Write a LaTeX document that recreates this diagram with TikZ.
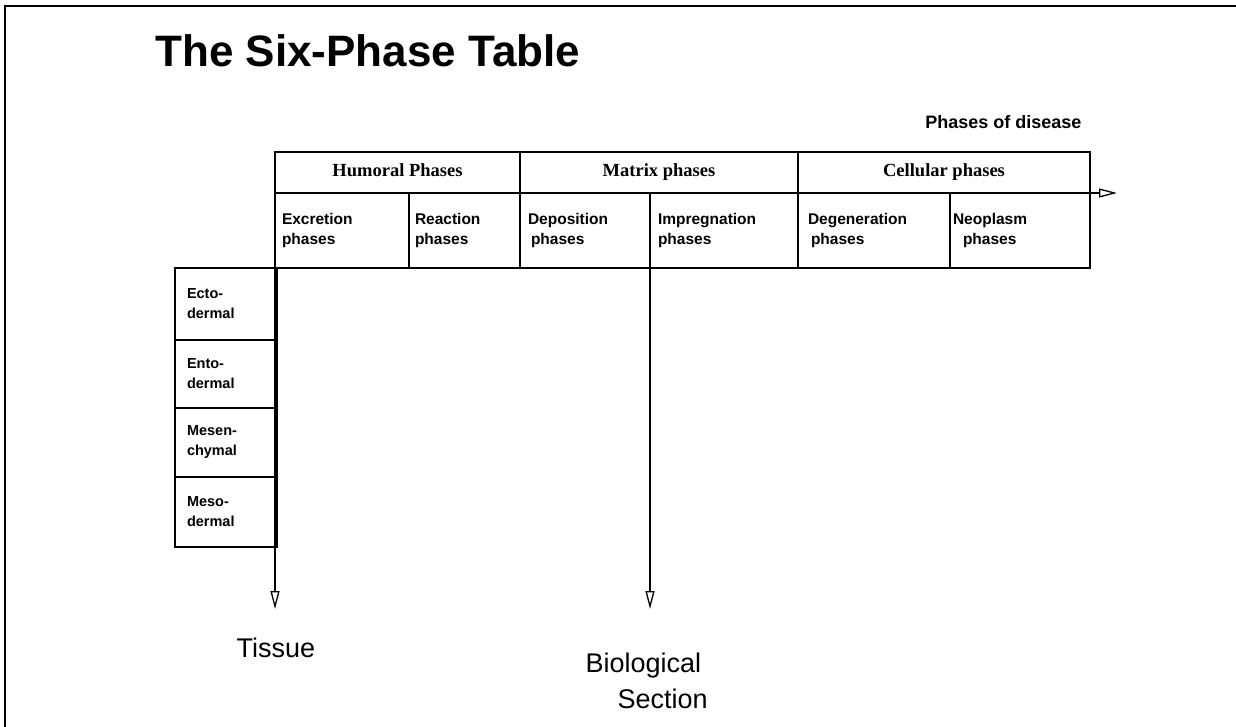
\documentclass[tikz,border=0pt]{standalone}
\usepackage{fontspec}
\setmainfont{Liberation Sans}
\newfontfamily\hdserif{Liberation Serif}
\usetikzlibrary{arrows.meta}

\tikzset{
  rule/.style={line width=1.3pt},
  headbox/.style={draw,rule,anchor=north west,inner sep=0pt,outer sep=0pt,text height=0.76em,text depth=0pt,
    minimum height=41pt,font=\hdserif\bfseries\fontsize{18.5}{20}\selectfont},
  phasebox/.style={draw,rule,anchor=north west,inner ysep=0pt,outer sep=0pt,
    minimum height=75pt,align=left,font=\bfseries\fontsize{15.5}{20}\selectfont},
  layerbox/.style={draw,rule,anchor=north west,inner xsep=12pt,inner ysep=0pt,outer sep=0pt,
    text width=78pt,align=left,font=\bfseries\fontsize{14.5}{20}\selectfont},
  axis/.style={rule,-{Triangle[open,length=18pt,width=9pt]}},
  label/.style={font=\fontsize{27}{30}\selectfont}
}

\begin{document}
\begin{tikzpicture}[x=1pt,y=1pt]
  \useasboundingbox (0,0) rectangle (1236,-727);
  \draw[line width=1.8pt] (5,-727) -- (5,-6) -- (1236,-6);

  \node[anchor=base west,font=\bfseries\fontsize{44}{48}\selectfont] (title) at (152,-67) {The Six-Phase Table};
  \node[anchor=base east,font=\bfseries\fontsize{18}{20}\selectfont] (disease) at (1085,-129) {Phases of disease};

  \foreach \x/\w/\nm/\txt in {275/245/humoral/Humoral Phases,520/278/matrix/Matrix phases,798/292/cellular/Cellular phases}
    {\node[headbox,minimum width=\w pt] (\nm) at (\x,-152) {\txt};}

  \foreach \x/\w/\p/\nm/\txt in {275/134/7/excr/{Excretion\\phases},409/111/6/react/{Reaction\\phases},
      520/130/8/depo/{Deposition\\\hspace{3pt}phases},650/148/8/impr/{Impregnation\\phases},
      798/152/10/degen/{Degeneration\\\hspace{3pt}phases},950/140/3/neo/{Neoplasm\\\hspace{10pt}phases}}
    {\node[phasebox,inner xsep=\p pt,text width=\w pt-2*\p pt] (\nm) at (\x,-193) {\txt};}

  \foreach \y/\h/\nm/\txt in {268/72/ecto/{Ecto-\\dermal},340/68/ento/{Ento-\\dermal},
      408/69/mesen/{Mesen-\\chymal},477/70/meso/{Meso-\\dermal}}
    {\node[layerbox,minimum height=\h pt] (\nm) at (175,-\y) {\txt};}

  \coordinate (tissueTip) at (275,-609);
  \coordinate (bioTip) at (650,-609);
  \coordinate (diseaseTip) at (1117,-193);
  \draw[axis] (humoral.north west) -- (tissueTip);
  \draw[axis] (depo.south east) -- (bioTip);
  \draw[axis] (cellular.south east) -- (diseaseTip);

  \node[label,anchor=base] (tissue) at (276,-657) {Tissue};
  \node[label,anchor=base west] (bio) at (582,-672) {Biological};
  \node[label,anchor=base west] (section) at (614,-708) {Section};
\end{tikzpicture}
\end{document}
